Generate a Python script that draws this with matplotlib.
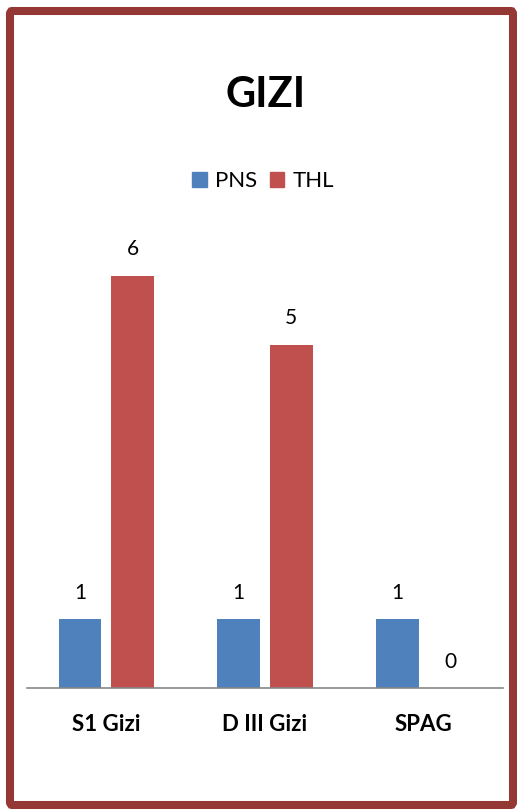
import matplotlib
matplotlib.use("Agg")
import matplotlib.pyplot as plt
from matplotlib.patches import FancyBboxPatch, Patch
import numpy as np

categories = ["S1 Gizi", "D III Gizi", "SPAG"]
pns = [1, 1, 1]
thl = [6, 5, 0]
series_names = ["PNS", "THL"]

W, H = 517, 811
fig = plt.figure(figsize=(W / 100, H / 100), dpi=100)
plt.rcParams['font.family'] = ['Lato', 'DejaVu Sans']

ax = fig.add_axes([27 / W, (H - 688) / H, 476 / W, 7 * 68.7 / H])
x = np.arange(len(categories))
bw = 0.27
off = 0.166
b1 = ax.bar(x - off, pns, bw, color="#4F81BD")
b2 = ax.bar(x + off, thl, bw, color="#C0504D")
for bars, vals in ((b1, pns), (b2, thl)):
    for r, v in zip(bars, vals):
        ax.annotate(str(v), (r.get_x() + r.get_width() / 2, v), xytext=(0, 19),
                    textcoords="offset points", ha="center", va="center", fontsize=15)
ax.set_xlim(-0.5, 2.5)
ax.set_ylim(0, 7)
ax.set_yticks([])
ax.set_xticks(x)
ax.set_xticklabels(categories, fontsize=16, fontweight="bold")
ax.tick_params(axis="x", length=0, pad=19)
for s in ("top", "left", "right"):
    ax.spines[s].set_visible(False)
ax.spines["bottom"].set_color("#868686")
ax.spines["bottom"].set_linewidth(1.2)

fig.text(266 / W, 1 - 95 / H, "GIZI", ha="center", va="center", fontsize=30, fontweight="bold")

handles = [Patch(color="#4F81BD"), Patch(color="#C0504D")]
fig.legend(handles, series_names, loc="center", bbox_to_anchor=(263 / W, 1 - 181 / H),
           ncol=2, frameon=False, fontsize=16, handlelength=0.65, handleheight=0.65,
           handletextpad=0.35, columnspacing=0.6)

border = FancyBboxPatch((10 / W, 6 / H), 503 / W, 794 / H, boxstyle="round,pad=0,rounding_size=0.004",
                        transform=fig.transFigure, facecolor="none", edgecolor="#953735",
                        linewidth=5.8, zorder=10)
fig.patches.append(border)

fig.savefig("out.png", dpi=100)
